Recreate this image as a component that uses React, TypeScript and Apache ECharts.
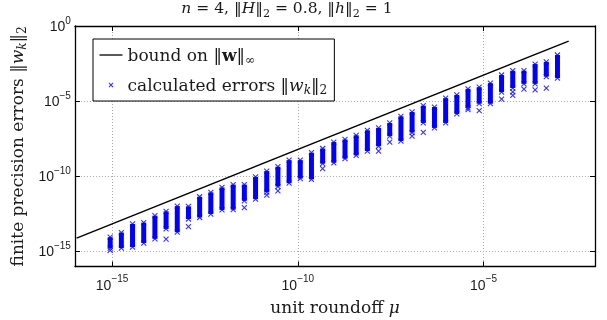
import React, { useEffect, useRef } from "react";
import * as echarts from "echarts";

// exponents of the unit roundoff mu = 2^e
const exps = [-50, -49, -48, -47, -46, -45, -44, -43, -42, -41, -40, -39, -38, -37, -36, -35, -34, -33, -32, -31, -30, -29, -28, -27, -26, -25, -24, -23, -22, -21, -20, -19, -18, -17, -16, -15, -14, -13, -12, -11, -10];
// log10 of the top of each column of calculated errors
const bandTopLog = [-14.05, -13.74, -13.17, -13.08, -12.62, -12.33, -11.98, -12.0, -11.36, -11.07, -10.74, -10.55, -10.55, -10.04, -9.65, -9.36, -8.92, -8.92, -8.43, -8.15, -7.72, -7.55, -7.27, -6.94, -6.78, -6.45, -6.01, -5.72, -5.3, -5.39, -4.8, -4.58, -4.18, -4.07, -3.8, -3.26, -2.97, -2.97, -2.53, -2.38, -1.93];
// log10 of the bottom of each dense column
const bandBottomLog = [-14.78, -14.78, -14.71, -14.44, -14.16, -13.5, -13.72, -12.84, -12.74, -12.51, -12.24, -12.22, -11.63, -11.52, -11.05, -10.68, -10.46, -10.15, -10.2, -9.16, -9.1, -8.83, -8.61, -8.32, -8.0, -7.33, -7.66, -7.09, -6.45, -6.78, -6.45, -5.85, -5.44, -5.17, -5.17, -4.4, -4.13, -3.85, -3.85, -3.37, -3.47];
// isolated low errors: [exponent of mu, log10 error]
const outliers = [[-50, -14.93], [-45, -14.18], [-43, -13.35], [-38, -12.09], [-36, -11.25], [-35, -10.97], [-31, -9.49], [-26, -8.32], [-25, -7.73], [-23, -7.33], [-22, -7.07], [-18, -5.57], [-17, -5.63], [-15, -4.86], [-14, -4.62], [-14, -4.38], [-13, -4.2], [-12, -4.25], [-11, -4.13]];
// bound line end points: [exponent of mu, log10 bound]
const boundPts = [[-53, -14.11], [-9, -1.0]];

const xTicks = [1e-15, 1e-10, 1e-5];
const yTicks = [1, 1e-5, 1e-10, 1e-15];

const BOUND = "bound on ‖w‖∞";
const CALC = "calculated errors ‖wk‖2";

const BLUE = "#0000ff";
const SERIF = "DejaVu Serif";
const SANS = "Liberation Sans";

export default function App() {
  const ref = useRef<HTMLDivElement>(null);
  useEffect(() => {
    if (!ref.current) return;
    const chart = echarts.init(ref.current, undefined, { renderer: "svg" });
    const mu = (e: number) => Math.pow(2, e);
    const p10 = (v: number) => Math.pow(10, v);

    const bandData = exps.map((e, i) => [mu(e), p10(bandBottomLog[i]), p10(bandTopLog[i])]);
    const scatterData: number[][] = [];
    exps.forEach((e, i) => {
      scatterData.push([mu(e), p10(bandTopLog[i])]);
      scatterData.push([mu(e), p10(bandBottomLog[i])]);
    });
    outliers.forEach(([e, v]) => scatterData.push([mu(e), p10(v)]));
    const boundData = boundPts.map(([e, v]) => [mu(e), p10(v)]);

    const tickFmt = (v: number) => {
      const ex = Math.round(Math.log10(v));
      return `{b|10}{s|${ex < 0 ? "−" + -ex : ex}}`;
    };
    const tickRich = {
      b: { fontSize: 14, fontFamily: SANS, color: "#1a1a1a", lineHeight: 22 },
      s: { fontSize: 10, fontFamily: SANS, color: "#1a1a1a", lineHeight: 10, verticalAlign: "top" },
    };
    const mkRich = (fs: number) => ({
      r: { fontSize: fs, fontFamily: SERIF, color: "#1a1a1a", lineHeight: 22 },
      i: { fontSize: fs, fontFamily: SERIF, fontStyle: "italic", color: "#1a1a1a", lineHeight: 22 },
      b: { fontSize: fs, fontFamily: SERIF, fontWeight: "bold", color: "#1a1a1a", lineHeight: 22 },
      sub: { fontSize: fs * 0.72, fontFamily: SERIF, color: "#1a1a1a", lineHeight: 11, verticalAlign: "bottom" },
      subi: { fontSize: fs * 0.72, fontFamily: SERIF, fontStyle: "italic", color: "#1a1a1a", lineHeight: 11, verticalAlign: "bottom" },
    });
    const serifRich = mkRich(17);
    const titleRich = mkRich(15.5);
    const axisLine = { show: true, lineStyle: { color: "#000", width: 1.3 } };
    const tickStyle = { inside: true, length: 5, lineStyle: { color: "#000", width: 1 } };
    const gridLine = { show: true, lineStyle: { color: "#a8a8a8", width: 1, type: [1, 2] } };

    chart.setOption({
      animation: false,
      title: {
        text: "{i|n} = 4, ‖{i|H}‖{sub|2} = 0.8, ‖{i|h}‖{sub|2} = 1",
        left: 287,
        top: -3,
        padding: 0,
        textAlign: "center",
        textStyle: { fontSize: 15.5, fontFamily: SERIF, fontWeight: "normal", color: "#1a1a1a", rich: titleRich },
      },
      legend: {
        orient: "vertical",
        left: 93,
        top: 39,
        padding: [5, 7, 5, 4],
        itemGap: 8,
        itemWidth: 23,
        itemHeight: 14,
        backgroundColor: "#fff",
        borderColor: "#000",
        borderWidth: 1,
        borderRadius: 0,
        symbolKeepAspect: true,
        data: [
          {
            name: BOUND,
            icon: "path://M0,-5M0,5M0,0L23,0",
            itemStyle: { color: "none", borderColor: "#000", borderWidth: 1.3 },
          },
          {
            name: CALC,
            icon: "path://M-12,-12M22,22M0,0L10,10M0,10L10,0",
            itemStyle: { color: "none", borderColor: BLUE, borderWidth: 1.1 },
          },
        ],
        formatter: (name: string) =>
          name === BOUND
            ? "{r|bound on ‖}{b|w}{r|‖}{sub|∞}"
            : "{r|calculated errors ‖}{i|w}{subi|k}{r|‖}{sub|2}",
        textStyle: { fontSize: 17, fontFamily: SERIF, color: "#1a1a1a", lineHeight: 22, rich: serifRich },
      },
      grid: { left: 73, right: 12, top: 26, bottom: 53, containLabel: false },
      xAxis: [
        {
          type: "log",
          logBase: 10,
          min: 1e-16,
          max: 1e-2,
          position: "bottom",
          axisLine,
          axisTick: { ...tickStyle, customValues: xTicks },
          axisLabel: { customValues: xTicks, formatter: tickFmt, rich: tickRich, margin: 7 },
          splitLine: gridLine,
          minorTick: { show: false },
          name: "{r|unit roundoff }{i|μ}",
          nameLocation: "middle",
          nameGap: 29,
          nameTextStyle: { fontSize: 17, fontFamily: SERIF, color: "#1a1a1a", rich: serifRich },
        },
        {
          type: "log",
          logBase: 10,
          min: 1e-16,
          max: 1e-2,
          position: "top",
          axisLine,
          axisTick: { ...tickStyle, customValues: xTicks },
          axisLabel: { show: false },
          splitLine: { show: false },
        },
      ],
      yAxis: [
        {
          type: "log",
          logBase: 10,
          min: 1e-16,
          max: 1,
          position: "left",
          axisLine,
          axisTick: { ...tickStyle, customValues: yTicks },
          axisLabel: { customValues: yTicks, formatter: tickFmt, rich: tickRich, margin: 4 },
          splitLine: gridLine,
          minorTick: { show: false },
          name: "{r|finite precision errors ‖}{i|w}{subi|k}{r|‖}{sub|2}",
          nameLocation: "middle",
          nameRotate: 90,
          nameGap: 43,
          nameTextStyle: { fontSize: 17, fontFamily: SERIF, color: "#1a1a1a", rich: serifRich },
        },
        {
          type: "log",
          logBase: 10,
          min: 1e-16,
          max: 1,
          position: "right",
          axisLine,
          axisTick: { ...tickStyle, customValues: yTicks },
          axisLabel: { show: false },
          splitLine: { show: false },
        },
      ],
      series: [
        {
          name: "bands",
          type: "custom",
          data: bandData,
          encode: { x: 0, y: [1, 2] },
          silent: true,
          renderItem: (params: any, api: any) => {
            const x = api.value(0);
            const lo = api.coord([x, api.value(1)]);
            const hi = api.coord([x, api.value(2)]);
            return {
              type: "rect",
              shape: { x: lo[0] - 2.5, y: hi[1], width: 5, height: lo[1] - hi[1] },
              style: { fill: BLUE },
            };
          },
          z: 2,
        },
        {
          name: CALC,
          type: "scatter",
          data: scatterData,
          symbol: "path://M0,0L10,10M0,10L10,0",
          symbolSize: 5,
          itemStyle: { color: "none", borderColor: BLUE, borderWidth: 1.1 },
          z: 3,
        },
        {
          name: BOUND,
          type: "line",
          data: boundData,
          symbol: "none",
          lineStyle: { color: "#000", width: 1.4 },
          z: 4,
        },
      ],
    });
    return () => chart.dispose();
  }, []);
  return <div ref={ref} style={{ position: "fixed", left: 0, top: 0, width: 607, height: 320 }} />;
}
